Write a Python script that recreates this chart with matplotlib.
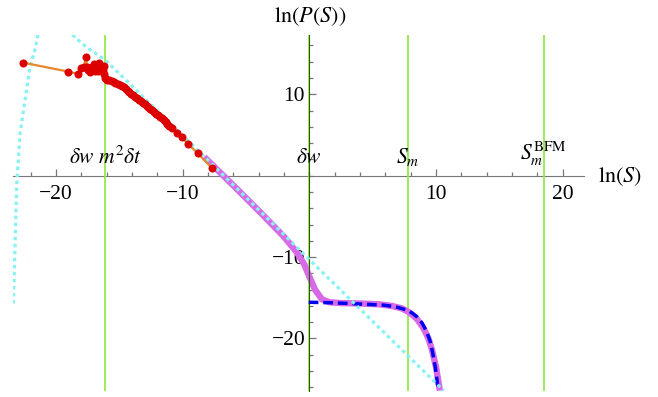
import numpy as np
import matplotlib
matplotlib.use("Agg")
import matplotlib.pyplot as plt
from matplotlib.ticker import MultipleLocator, FixedLocator

plt.rcParams["font.family"] = ["Liberation Serif", "DejaVu Serif"]
plt.rcParams["mathtext.fontset"] = "stix"

# ---
# data, all in (ln S, ln P(S))
# ---

# small-S histogram (red points joined by an orange line)
small_lnS = [-22.57, -19.02, -18.28, -18.0, -17.8, -17.62, -17.55, -17.45,
             -17.3, -17.15, -17.0, -16.95, -16.84, -16.75, -16.7, -16.65,
             -16.57, -16.46, -16.38, -16.3, -16.22, -16.18, -16.1, -15.95,
             -15.8, -15.6, -15.45, -15.3, -15.1, -14.94, -14.8, -14.65,
             -14.5, -14.35, -14.2, -14.05, -13.9, -13.75, -13.6, -13.45,
             -13.3, -13.15, -13.0, -12.85, -12.7, -12.55, -12.4, -12.25,
             -12.1, -11.95, -11.8, -11.65, -11.5, -11.35, -11.2, -11.05,
             -10.86, -10.47, -10.07, -9.55, -8.81, -7.66]
small_lnP = [13.88, 12.78, 12.53, 13.2, 13.4, 14.62, 13.3, 13.0,
             12.7, 13.3, 13.7, 12.9, 13.07, 13.3, 13.5, 12.8,
             13.8, 13.07, 13.4, 13.0, 13.5, 12.5, 12.0, 11.8,
             11.7, 11.6, 11.5, 11.4, 11.3, 11.14, 11.0, 10.85,
             10.65, 10.45, 10.25, 10.05, 9.9, 9.7, 9.5, 9.33,
             9.15, 8.95, 8.78, 8.6, 8.4, 8.2, 8.02, 7.85,
             7.62, 7.42, 7.22, 7.03, 6.84, 6.6, 6.36, 6.1,
             5.82, 5.28, 4.7, 3.86, 2.75, 0.9]

# simulated avalanche size distribution (magenta)
sim_lnS = [-8.3, -6.0, -4.0, -2.0, -1.0, -0.4, 0.0, 0.45, 1.0, 1.6, 2.5,
           4.0, 5.5, 6.5, 7.3, 7.9, 8.5, 9.0, 9.4, 9.7, 10.0, 10.3]
sim_lnP = [2.3, -1.2, -4.3, -7.5, -9.4, -10.9, -12.4, -14.0, -15.2, -15.55,
           -15.65, -15.7, -15.8, -16.0, -16.3, -16.8, -17.6, -18.7, -20.0,
           -21.5, -23.5, -26.4]

# large-S prediction (blue dashed)
bfm_lnS = [-0.05, 1.5, 3.2, 4.5, 5.84, 6.8, 7.69, 8.1, 8.47, 8.9, 9.27,
           9.55, 9.74, 9.95, 10.18]
bfm_lnP = [-15.55, -15.6, -15.7, -15.8, -15.9, -16.1, -16.5, -16.85,
           -17.3, -18.1, -19.2, -20.4, -21.8, -23.6, -26.3]

# power law with small-S cutoff (cyan dotted), two visible branches
cyan_left_lnS = [-21.42, -21.7, -22.05, -22.44, -22.83, -23.1, -23.23, -23.36]
cyan_left_lnP = [17.3, 15.2, 13.4, 9.3, 5.2, -1.2, -8.7, -15.7]
cyan_right_lnS = [-18.7, -18.2, -17.6, -16.1, -8.0, 0.0, 5.0, 10.6]
cyan_right_lnP = [17.3, 16.6, 15.8, 14.2, 1.9, -10.3, -17.9, -26.4]

# marked scales
vline_pos = [-16.1, 0.0, 7.8, 18.5]
vline_labels = [r"$\delta w\ m^2\delta t$", r"$\delta w$", r"$S_m$",
                r"$S_m^{\mathrm{BFM}}$"]

x_major = [-20, -10, 10, 20]
y_major = [-20, -10, 10]

# ---
# plot
# ---
fig = plt.figure(figsize=(6.58, 3.97), dpi=100)
ax = fig.add_axes([13 / 658, 6 / 397, 571 / 658, 356 / 397])
ax.set_xlim(-23.39, 21.68)
ax.set_ylim(-26.45, 17.28)

green = "#8ee83c"
for xv in vline_pos:
    ax.axvline(xv, color=green, lw=1.2, zorder=1)

ax.plot(sim_lnS, sim_lnP, color="#d86ae8", lw=4.6, solid_capstyle="butt",
        zorder=2)
ax.plot(bfm_lnS, bfm_lnP, color="#0000ee", lw=2.5, dashes=(2.8, 1.4),
        zorder=3)
cyan_style = dict(color="#86f2f2", lw=2.3, dashes=(1.1, 1.1), zorder=4)
ax.plot(cyan_left_lnS, cyan_left_lnP, **cyan_style)
ax.plot(cyan_right_lnS, cyan_right_lnP, **cyan_style)
ax.plot(small_lnS, small_lnP, color="#e8862a", lw=1.6, zorder=5)
ax.plot(small_lnS, small_lnP, "o", color="#dd0000", ms=5.8, mec="none",
        zorder=6)

# labels of the marked scales, just above the ln(S) axis
for xv, lab in zip(vline_pos, vline_labels):
    ax.text(xv, 0.9, lab, ha="center", va="bottom", fontsize=15.5, zorder=7)

# axes through the origin
for side in ["top", "right"]:
    ax.spines[side].set_visible(False)
ax.spines["bottom"].set_position(("data", 0))
ax.spines["left"].set_position(("data", 0))
ax.spines["bottom"].set_color("#777777")
ax.spines["left"].set_color("#2d5a10")
ax.spines["bottom"].set_zorder(0.5)

ax.xaxis.set_major_locator(FixedLocator(x_major))
ax.xaxis.set_minor_locator(MultipleLocator(2))
ax.yaxis.set_major_locator(FixedLocator(y_major))
ax.yaxis.set_minor_locator(MultipleLocator(2))
ax.tick_params(which="both", direction="in", colors="#777777",
               labelcolor="black", labelsize=15.5, width=0.9)
ax.tick_params(which="major", length=5)
ax.tick_params(which="minor", length=3)
ax.tick_params(axis="x", pad=7)
ax.tick_params(axis="y", pad=3)
ax.set_xticklabels([f"\u2212{abs(v)}" if v < 0 else str(v) for v in x_major])
ax.set_yticklabels([f"\u2212{abs(v)}" if v < 0 else str(v) for v in y_major])

fig.text(310 / 658, 1 - 17 / 397, r"$\ln(P(S))$", ha="center", va="center",
         fontsize=16)
fig.text(598 / 658, 1 - 177 / 397, r"$\ln(S)$", ha="left", va="center",
         fontsize=16)

fig.savefig("out.png", dpi=100)
